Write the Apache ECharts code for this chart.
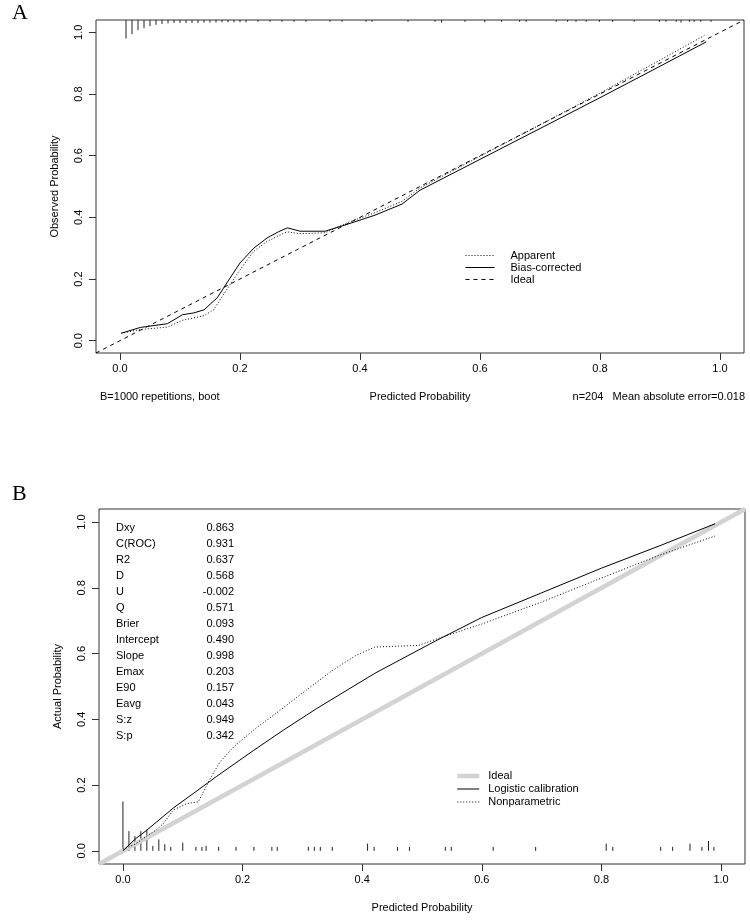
<!DOCTYPE html>
<html><head><meta charset="utf-8">
<script src="https://cdn.jsdelivr.net/npm/echarts@6/dist/echarts.min.js"></script>
<style>html,body{margin:0;padding:0;background:#fff}#c{width:750px;height:922px}</style>
</head><body><div id="c"></div>
<script>
// ---------- data ----------
const tickValues = [0, 0.2, 0.4, 0.6, 0.8, 1.0];

// Panel A
const aIdeal = [[-0.04, -0.04], [1.04, 1.04]];
const aApparent = [[0.002,0.024],[0.034,0.036],[0.079,0.044],[0.104,0.066],[0.14,0.081],[0.156,0.1],[0.178,0.166],[0.2,0.23],[0.223,0.29],[0.245,0.322],[0.278,0.353],[0.30,0.347],[0.342,0.35],[0.378,0.382],[0.425,0.415],[0.47,0.452],[0.5,0.495],[0.6,0.598],[0.7,0.7],[0.8,0.803],[0.9,0.91],[0.974,0.99]];
const aBiasCorrected = [[0.002,0.024],[0.034,0.043],[0.079,0.055],[0.104,0.084],[0.123,0.09],[0.14,0.1],[0.162,0.139],[0.178,0.187],[0.2,0.252],[0.223,0.30],[0.245,0.333],[0.264,0.353],[0.279,0.366],[0.30,0.355],[0.342,0.355],[0.378,0.377],[0.425,0.407],[0.47,0.443],[0.5,0.488],[0.6,0.588],[0.7,0.688],[0.8,0.788],[0.9,0.89],[0.977,0.969]];
const aRugX = [0.01,0.02,0.03,0.04,0.05,0.06,0.07,0.08,0.09,0.10,0.11,0.12,0.13,0.14,0.15,0.16,0.17,0.18,0.19,0.20,0.21,0.23,0.25,0.27,0.29,0.31,0.35,0.37,0.41,0.42,0.48,0.525,0.536,0.575,0.608,0.636,0.666,0.677,0.727,0.746,0.76,0.777,0.799,0.821,0.857,0.899,0.91,0.927,0.935,0.949,0.957,0.968,0.985];
const aRugFreq = [1.0,0.76,0.55,0.45,0.33,0.26,0.22,0.18,0.16,0.16,0.16,0.16,0.16,0.14,0.14,0.14,0.12,0.12,0.12,0.12,0.12,0.1,0.1,0.1,0.1,0.1,0.1,0.1,0.1,0.1,0.1,0.1,0.14,0.1,0.12,0.1,0.1,0.1,0.1,0.1,0.1,0.1,0.1,0.1,0.1,0.1,0.1,0.1,0.14,0.1,0.1,0.1,0.1];

// Panel B
const bIdeal = [[-0.04, -0.04], [1.04, 1.04]];
const bLogistic = [[0,0],[0.02,0.035],[0.04,0.063],[0.084,0.13],[0.118,0.175],[0.157,0.227],[0.218,0.305],[0.268,0.367],[0.324,0.433],[0.421,0.54],[0.522,0.638],[0.6,0.71],[0.7,0.785],[0.8,0.86],[0.9,0.93],[0.99,0.995]];
const bNonparametric = [[0.0,0.005],[0.02,0.02],[0.04,0.045],[0.056,0.064],[0.068,0.084],[0.084,0.124],[0.107,0.144],[0.126,0.149],[0.146,0.22],[0.162,0.27],[0.185,0.316],[0.22,0.37],[0.263,0.428],[0.3,0.48],[0.351,0.55],[0.39,0.595],[0.421,0.62],[0.494,0.625],[0.533,0.65],[0.6,0.69],[0.7,0.757],[0.8,0.83],[0.895,0.898],[0.99,0.958]];
const bRugX = [0.0,0.01,0.02,0.03,0.04,0.05,0.06,0.07,0.08,0.10,0.122,0.132,0.139,0.16,0.189,0.219,0.249,0.258,0.31,0.32,0.33,0.35,0.409,0.42,0.459,0.479,0.539,0.549,0.619,0.69,0.808,0.819,0.899,0.919,0.948,0.968,0.979,0.988];
const bRugH = [0.15,0.06,0.045,0.06,0.065,0.015,0.035,0.02,0.012,0.025,0.012,0.012,0.015,0.012,0.012,0.012,0.012,0.012,0.012,0.012,0.012,0.012,0.022,0.012,0.012,0.012,0.012,0.012,0.012,0.012,0.022,0.012,0.012,0.012,0.022,0.012,0.03,0.012];

const statNames = ['Dxy','C(ROC)','R2','D','U','Q','Brier','Intercept','Slope','Emax','E90','Eavg','S:z','S:p'];
const statValues = ['0.863','0.931','0.637','0.568','-0.002','0.571','0.093','0.490','0.998','0.203','0.157','0.043','0.949','0.342'];

// ---------- styles ----------
const FONT = "'Liberation Sans',Arial,sans-serif";
const SERIF = "'Liberation Serif','DejaVu Serif',serif";
const FS = 11;
const RUG_A_LEN = 0.06;

function xAxis(gi, name) {
  return {type:'value', gridIndex:gi, min:-0.04, max:1.04, name:name, nameLocation:'middle', nameGap:38,
    nameTextStyle:{fontFamily:FONT, fontSize:FS, color:'#000'},
    axisLine:{show:false, onZero:false}, splitLine:{show:false},
    axisTick:{show:true, customValues:tickValues, length:7, inside:false, lineStyle:{color:'#333'}},
    axisLabel:{customValues:tickValues, formatter:v=>v.toFixed(1), margin:10, fontFamily:FONT, fontSize:FS, color:'#000'}};
}
function yAxis(gi, name) {
  return {type:'value', gridIndex:gi, min:-0.04, max:1.04, name:name, nameLocation:'middle', nameGap:36,
    nameTextStyle:{fontFamily:FONT, fontSize:FS, color:'#000'},
    axisLine:{show:false, onZero:false}, splitLine:{show:false},
    axisTick:{show:true, customValues:tickValues, length:7, inside:false, lineStyle:{color:'#333'}},
    axisLabel:{customValues:tickValues, rotate:90, formatter:v=>v.toFixed(1), margin:12, fontFamily:FONT, fontSize:FS, color:'#000'}};
}

const chart = echarts.init(document.getElementById('c'), null, {renderer:'canvas'});

const graphics = [
  {type:'text', left:12, top:2, style:{text:'A', font:'22px ' + SERIF, fill:'#000'}},
  {type:'text', left:12, top:483, style:{text:'B', font:'22px ' + SERIF, fill:'#000'}},
  {type:'text', x:100, y:397, style:{text:'B=1000 repetitions, boot', font:FS + 'px ' + FONT, fill:'#000', textVerticalAlign:'middle'}},
  {type:'text', x:745, y:397, style:{text:'n=204   Mean absolute error=0.018', font:FS + 'px ' + FONT, fill:'#000', textAlign:'right', textVerticalAlign:'middle'}}
];
statNames.forEach((n, i) => {
  graphics.push({type:'text', x:116, y:528 + i*16, style:{text:n, font:FS + 'px ' + FONT, fill:'#000', textVerticalAlign:'middle'}});
  graphics.push({type:'text', x:234, y:528 + i*16, style:{text:statValues[i], font:FS + 'px ' + FONT, fill:'#000', textAlign:'right', textVerticalAlign:'middle'}});
});

const hiddenSymbol = {color:'rgba(0,0,0,0)', borderWidth:0, opacity:0};

const option = {
  animation:false,
  backgroundColor:'#fff',
  grid:[
    {left:96, top:20, width:648, height:333, show:true, borderColor:'#333', borderWidth:1, backgroundColor:'transparent'},
    {left:99, top:509, width:646, height:355, show:true, borderColor:'#333', borderWidth:1, backgroundColor:'transparent'}
  ],
  xAxis:[xAxis(0,'Predicted Probability'), xAxis(1,'Predicted Probability')],
  yAxis:[yAxis(0,'Observed Probability'), yAxis(1,'Actual Probability')],
  legend:[
    {orient:'vertical', left:465, top:250, itemWidth:29, itemHeight:12, itemGap:1, padding:0,
     data:['Apparent','Bias-corrected','Ideal'], itemStyle:hiddenSymbol, lineStyle:{width:1},
     textStyle:{fontFamily:FONT, fontSize:FS, color:'#000', padding:[0,0,0,11]}, selectedMode:false},
    {orient:'vertical', left:455, top:770.5, itemWidth:22, itemHeight:13, itemGap:2, padding:0,
     data:[{name:'Ideal (B)', lineStyle:{width:4.5}}, {name:'Logistic calibration', lineStyle:{width:1}}, {name:'Nonparametric', lineStyle:{width:1}}],
     itemStyle:hiddenSymbol,
     formatter:n=>n.replace(' (B)',''),
     textStyle:{fontFamily:FONT, fontSize:FS, color:'#000', padding:[0,0,0,4]}, selectedMode:false}
  ],
  graphic:graphics,
  series:[
    {name:'Apparent', type:'line', xAxisIndex:0, yAxisIndex:0, data:aApparent, symbol:'none', lineStyle:{color:'#000', width:1, type:[1,2]}, itemStyle:{color:'#000'}},
    {name:'Bias-corrected', type:'line', xAxisIndex:0, yAxisIndex:0, data:aBiasCorrected, symbol:'none', lineStyle:{color:'#000', width:1, type:'solid'}, itemStyle:{color:'#000'}},
    {name:'Ideal', type:'line', xAxisIndex:0, yAxisIndex:0, data:aIdeal, symbol:'none', lineStyle:{color:'#000', width:1, type:[4,4]}, itemStyle:{color:'#000'}},
    {name:'rugA', type:'custom', xAxisIndex:0, yAxisIndex:0, silent:true, clip:false,
     data:aRugX.map((x,i)=>[x, aRugFreq[i]]),
     renderItem:(p, api)=>{ const x=api.value(0), f=api.value(1);
       const a=api.coord([x,1.04]), b=api.coord([x,1.04 - f*RUG_A_LEN]);
       return {type:'line', shape:{x1:a[0],y1:a[1],x2:b[0],y2:b[1]}, style:{stroke:'#222', lineWidth:1}}; }},
    {name:'Ideal (B)', type:'line', xAxisIndex:1, yAxisIndex:1, data:bIdeal, symbol:'none', lineStyle:{color:'#d3d3d3', width:4.5}, itemStyle:{color:'#d3d3d3'}},
    {name:'Logistic calibration', type:'line', xAxisIndex:1, yAxisIndex:1, data:bLogistic, symbol:'none', lineStyle:{color:'#000', width:1}, itemStyle:{color:'#000'}},
    {name:'Nonparametric', type:'line', xAxisIndex:1, yAxisIndex:1, data:bNonparametric, symbol:'none', lineStyle:{color:'#000', width:1, type:[1,2]}, itemStyle:{color:'#000'}},
    {name:'rugB', type:'custom', xAxisIndex:1, yAxisIndex:1, silent:true, clip:false,
     data:bRugX.map((x,i)=>[x, bRugH[i]]),
     renderItem:(p, api)=>{ const x=api.value(0), h=api.value(1);
       const a=api.coord([x,0]), b=api.coord([x,h]);
       return {type:'line', shape:{x1:a[0],y1:a[1],x2:b[0],y2:b[1]}, style:{stroke:'#222', lineWidth:1}}; }}
  ]
};
chart.setOption(option);
</script></body></html>
